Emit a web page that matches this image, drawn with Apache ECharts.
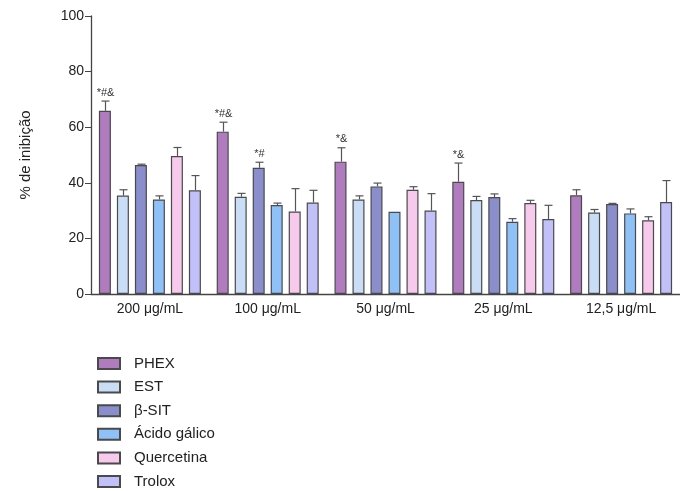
<!DOCTYPE html>
<html>
<head>
<meta charset="utf-8">
<script src="https://cdn.jsdelivr.net/npm/echarts@6/dist/echarts.min.js"></script>
<style>html,body{margin:0;padding:0;background:#fff}#c{width:680px;height:491px}</style>
</head>
<body>
<div id="c"></div>
<script>
const categories = ['200 μg/mL', '100 μg/mL', '50 μg/mL', '25 μg/mL', '12,5 μg/mL'];
const seriesNames = ['PHEX', 'EST', 'β-SIT', 'Ácido gálico', 'Quercetina', 'Trolox'];
const yTicks = [0, 20, 40, 60, 80, 100];

const phex   = [65.9, 58.4, 47.6, 40.4, 35.5];
const est    = [35.4, 35.0, 34.0, 33.8, 29.3];
const bsit   = [46.4, 45.4, 38.7, 34.9, 32.4];
const acido  = [34.0, 32.0, 29.6, 26.0, 29.0];
const querc  = [49.6, 29.7, 37.5, 32.7, 26.5];
const trolox = [37.3, 32.9, 30.0, 27.0, 33.1];

const phexErr   = [3.5, 3.4, 5.0, 6.7, 2.0];
const estErr    = [2.1, 1.2, 1.3, 1.3, 1.1];
const bsitErr   = [0.3, 2.0, 1.2, 1.1, 0.2];
const acidoErr  = [1.3, 0.7, 0.0, 1.1, 1.6];
const quercErr  = [3.1, 8.2, 1.1, 1.0, 1.3];
const troloxErr = [5.3, 4.4, 6.1, 4.9, 7.7];

const phexAnn   = ['*#&', '*#&', '*&', '*&', ''];
const estAnn    = ['', '', '', '', ''];
const bsitAnn   = ['', '*#', '', '', ''];
const acidoAnn  = ['', '', '', '', ''];
const quercAnn  = ['', '', '', '', ''];
const troloxAnn = ['', '', '', '', ''];

const colors = ['#B07CBF', '#C9DEF6', '#8A8ECC', '#8EC1F7', '#F7C9EC', '#C2C0F9'];

const values = [phex, est, bsit, acido, querc, trolox];
const errs = [phexErr, estErr, bsitErr, acidoErr, quercErr, troloxErr];
const anns = [phexAnn, estAnn, bsitAnn, acidoAnn, quercAnn, troloxAnn];

const BAR_W = 12, PITCH = 18;
const font = 'Arial, "Liberation Sans", sans-serif';

const series = [];
values.forEach((vals, s) => {
  series.push({
    name: seriesNames[s],
    type: 'bar',
    data: vals,
    barWidth: BAR_W,
    barGap: '50%',
    itemStyle: { color: colors[s], borderColor: '#4a4a4a', borderWidth: 1.2 },
    z: 2
  });
});
values.forEach((vals, s) => {
  const offset = (s - 2.5) * PITCH;
  series.push({
    type: 'custom',
    name: seriesNames[s] + '_err',
    data: vals.map((v, i) => [i, v, errs[s][i]]),
    z: 3,
    silent: true,
    renderItem: function (params, api) {
      const ci = api.value(0), v = api.value(1), e = api.value(2);
      const base = api.coord([ci, v]);
      const top = api.coord([ci, v + e]);
      const x = Math.round(base[0] + offset) + 0.5;
      const children = [];
      if (e > 0.05) {
        children.push({ type: 'line', shape: { x1: x, y1: base[1], x2: x, y2: top[1] }, style: { stroke: '#555', lineWidth: 1.2 } });
        children.push({ type: 'line', shape: { x1: x - 4, y1: top[1], x2: x + 4, y2: top[1] }, style: { stroke: '#555', lineWidth: 1.2 } });
      }
      const a = anns[s][params.dataIndex];
      if (a) {
        children.push({ type: 'text', style: { text: a, x: x, y: top[1] - 3, align: 'center', verticalAlign: 'bottom', fill: '#333', font: '11px ' + font } });
      }
      return { type: 'group', children: children };
    }
  });
});

const chart = echarts.init(document.getElementById('c'), null, { renderer: 'canvas' });
chart.setOption({
  animation: false,
  backgroundColor: '#fff',
  textStyle: { fontFamily: font },
  grid: { left: 91, top: 16, width: 596, height: 278, containLabel: false },
  legend: {
    data: seriesNames,
    orient: 'vertical',
    left: 97, top: 356,
    height: 140,
    padding: 0,
    icon: 'rect',
    itemWidth: 22, itemHeight: 11, itemGap: 8.6,
    textStyle: { fontSize: 15, color: '#222', lineHeight: 15, fontFamily: font, padding: [0, 0, 0, 9] }
  },
  xAxis: {
    type: 'category',
    data: categories,
    axisLine: { lineStyle: { color: '#444', width: 1.3 } },
    axisTick: { alignWithLabel: true, length: 4, lineStyle: { color: '#444' } },
    axisLabel: { fontSize: 14, color: '#222', margin: 8 }
  },
  yAxis: {
    type: 'value',
    min: yTicks[0], max: yTicks[yTicks.length - 1], interval: 20,
    name: '% de inibição',
    nameLocation: 'middle',
    nameGap: 58,
    nameRotate: 90,
    nameTextStyle: { fontSize: 15, color: '#222' },
    axisLine: { show: true, lineStyle: { color: '#444', width: 1.3 } },
    axisTick: { show: true, length: 6, lineStyle: { color: '#444' } },
    axisLabel: { fontSize: 14, color: '#222', margin: 7 },
    splitLine: { show: false }
  },
  series: series
});
</script>
</body>
</html>
